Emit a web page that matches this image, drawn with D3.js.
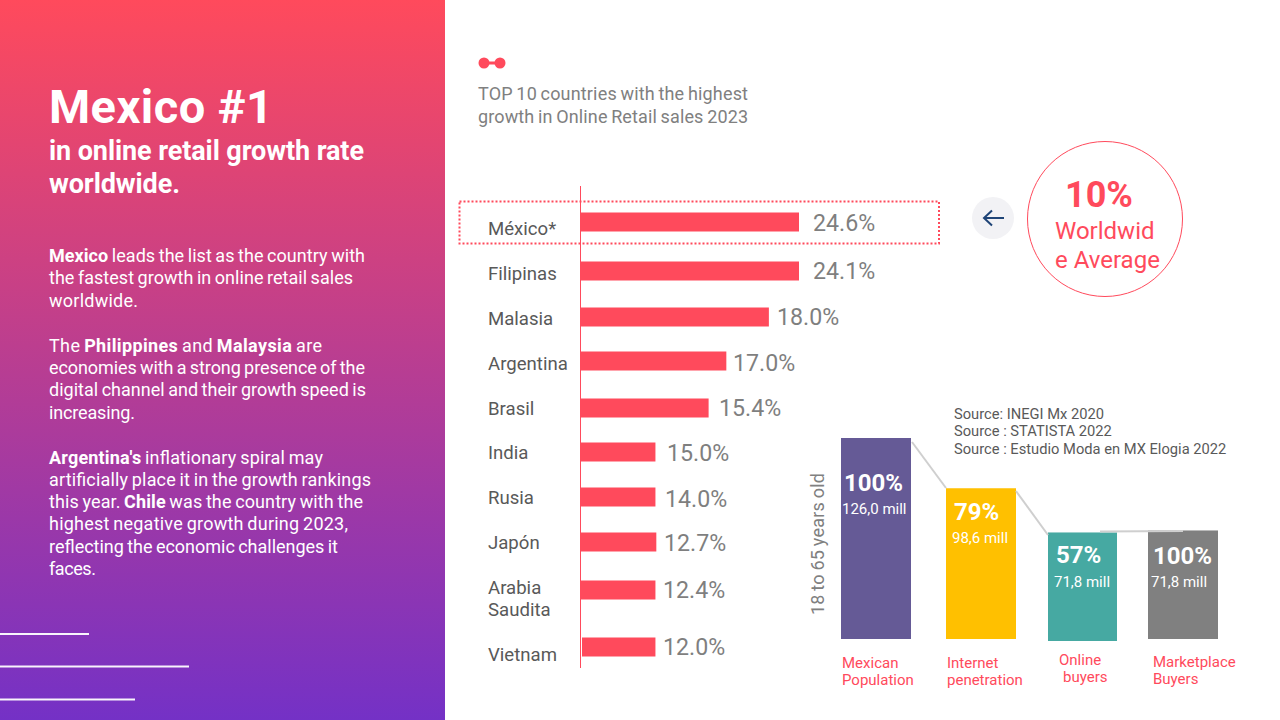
<!DOCTYPE html>
<html><head><meta charset="utf-8">
<script src="https://cdn.jsdelivr.net/npm/d3@7"></script>
<style>html,body{margin:0;padding:0;background:#fff;overflow:hidden}svg{display:block;font-family:Roboto,sans-serif}</style>
</head><body><svg id="c" width="1280" height="720"></svg>
<script>
// ---- data ----
const countries = ["México*","Filipinas","Malasia","Argentina","Brasil","India","Rusia","Japón","Arabia Saudita","Vietnam"];
const growthLabels = [24.6,24.1,18.0,17.0,15.4,15.0,14.0,12.7,12.4,12.0];
// drawn lengths of the bars: the source graphic does not draw them to scale with the printed values
const barLengths = [24.6,24.6,21.2,16.4,14.4,8.4,8.4,8.5,8.4,8.4];
const funnelCats = ["Mexican Population","Internet penetration","Online buyers","Marketplace Buyers"];
const funnelPct = [100,79,57,100];
const funnelMill = ["126,0 mill","98,6 mill","71,8 mill","71,8 mill"];
// drawn heights of the funnel columns, in the same picture-based sense
const funnelHeights = [100,75,54,54];
const funnelColors = ["#655A96","#FFC000","#46A9A2","#808080"];
const RED = "#FF4A5C";

const svg = d3.select("#c");
const defs = svg.append("defs");
const g = defs.append("linearGradient").attr("id","panel").attr("x1",0).attr("y1",0).attr("x2",0).attr("y2",1);
g.append("stop").attr("offset",0).attr("stop-color","#FF4A5C");
g.append("stop").attr("offset",1).attr("stop-color","#7431C6");
svg.append("rect").attr("width",445).attr("height",720).attr("fill","url(#panel)");

function line(x,y,segs,size,fill,width,opts={}){
  const t = svg.append("text").attr("x",x).attr("y",y).attr("font-size",size).attr("fill",fill);
  if(width) t.attr("textLength",width).attr("lengthAdjust","spacing");
  if(opts.weight) t.attr("font-weight",opts.weight);
  if(opts.words) t.attr("word-spacing",opts.words);
  (Array.isArray(segs)?segs:[[segs,0]]).forEach(([s,b])=>{
    const ts=t.append("tspan").text(s); if(b) ts.attr("font-weight",b===1?700:b);
  });
  return t;
}
// left panel
line(49,123,"Mexico #1",47,"#fff",224,{weight:700});
line(49,160,"in online retail growth rate",27,"#fff",315,{weight:700});
line(49,193,"worldwide.",27,"#fff",131,{weight:700});
const body = [
 [261.5,[["Mexico",1],[" leads the list as the country with",0]],316],
 [284,[["the fastest growth in online retail sales",0]],304],
 [307,[["worldwide.",0]],89],
 [352,[["The ",0],["Philippines",1],[" and ",0],["Malaysia",1],[" are",0]],273],
 [374,[["economies with a strong presence of the",0]],316],
 [396,[["digital channel and their growth speed is",0]],317],
 [419,[["increasing.",0]],86],
 [464,[["Argentina's",1],[" inflationary spiral may",0]],274],
 [486,[["artificially place it in the growth rankings",0]],322],
 [508,[["this year. ",0],["Chile",1],[" was the country with the",0]],314],
 [530,[["highest negative growth during 2023,",0]],299],
 [552.5,[["reflecting the economic challenges it",0]],289],
 [575,[["faces.",0]],47]
];
body.forEach(([y,s,w])=>line(49,y,s,18,"#fff",w,{words:-1}));
[[634,89],[666.5,189],[699.5,135]].forEach(([y,w])=>svg.append("rect").attr("x",0).attr("y",y-1).attr("width",w).attr("height",2).attr("fill","#fff").attr("opacity",.95));

// logo and heading
svg.append("circle").attr("cx",484).attr("cy",63).attr("r",5.5).attr("fill",RED);
svg.append("circle").attr("cx",500).attr("cy",63).attr("r",5.5).attr("fill",RED);
svg.append("rect").attr("x",484).attr("y",61.5).attr("width",16).attr("height",3).attr("fill",RED);
line(478,100,"TOP 10 countries with the highest",18,"#808080",270,{words:-1});
line(478,123,"growth in Online Retail sales 2023",18,"#808080",270,{words:-1});

// bar chart
const x = d3.scaleLinear().domain([0,24.6]).range([581,799]);
const yMid = d3.scaleOrdinal().domain(countries).range([222,271,317,361,408,452,497,542,590,647]);
const labelX = [813,813,777,733,719,667,665,664,663,663];
const labelY = [231,279,325,371,416,461,507,551,598,655];
const catY = {"México*":235,"Filipinas":280,"Malasia":325,"Argentina":370,"Brasil":415,"India":459,"Rusia":504,"Japón":549,"Vietnam":661};
svg.append("rect").attr("x",459.5).attr("y",201.5).attr("width",479.5).attr("height",42)
  .attr("fill","none").attr("stroke",RED).attr("stroke-width",2).attr("stroke-dasharray","2 2");
const barH = 19;
svg.selectAll("rect.b").data(countries).join("rect").attr("class","b")
  .attr("x",(d,i)=>i===9?582:x(0)).attr("y",d=>yMid(d)-barH/2)
  .attr("width",(d,i)=>x(barLengths[i])-(i===9?582:x(0))).attr("height",barH).attr("fill",RED);
svg.append("line").attr("x1",580.5).attr("x2",580.5).attr("y1",186).attr("y2",668).attr("stroke",RED).attr("stroke-width",1);
countries.forEach((c,i)=>{
  if(c==="Arabia Saudita"){
    line(488,594,"Arabia",18.6,"#595959");
    line(488,616,"Saudita",18.6,"#595959");
  } else line(488,catY[c],c,18.6,"#595959");
  line(labelX[i],labelY[i],growthLabels[i].toFixed(1)+"%",23.2,"#7F7F7F");
});

// average callout
svg.append("circle").attr("cx",993).attr("cy",218).attr("r",21).attr("fill","#F2F2F5");
svg.append("path").attr("d","M1004 218H984M992 210.5L984 218L992 225.5").attr("fill","none").attr("stroke","#1F4477").attr("stroke-width",2);
svg.append("circle").attr("cx",1105).attr("cy",219).attr("r",77.5).attr("fill","none").attr("stroke",RED).attr("stroke-width",1);
line(1065,207,"10%",36,RED,null,{weight:700});
line(1055,239,"Worldwid",24,RED);
line(1055,268,"e Average",24,RED);

// funnel
const h = d3.scaleLinear().domain([0,100]).range([0,201]);
const fx = d3.scaleOrdinal().domain(funnelCats).range([841,946,1048,1148]);
const fw = [70,70,69,70], fb = [639,639,641,639];
svg.selectAll("rect.f").data(funnelCats).join("rect").attr("class","f")
  .attr("x",d=>fx(d)).attr("width",(d,i)=>fw[i])
  .attr("y",(d,i)=>fb[i]-h(funnelHeights[i])).attr("height",(d,i)=>h(funnelHeights[i]))
  .attr("fill",(d,i)=>funnelColors[i]);
[[912,442,946,488],[1016,491,1048,535],[1100,531.5,1183,531]].forEach(([a,b,c,d])=>
  svg.append("line").attr("x1",a).attr("y1",b).attr("x2",c).attr("y2",d).attr("stroke","#CFCFCF").attr("stroke-width",2));
const pctX=[844,954,1056,1153], pctY=[491,520,563,564], millX=[842,952,1054,1151], millY=[514,543,587,587];
funnelCats.forEach((c,i)=>{
  line(pctX[i],pctY[i],funnelPct[i]+"%",24,"#fff",null,{weight:700});
  line(millX[i],millY[i],funnelMill[i],15,"#fff");
});
line(842,668,"Mexican",15,RED); line(842,685,"Population",15,RED);
line(947,668,"Internet",15,RED); line(947,685,"penetration",15,RED);
line(1059,665,"Online",15,RED); line(1063,682,"buyers",15,RED);
line(1153,667,"Marketplace",15,RED); line(1153,684,"Buyers",15,RED);
line(954,419,"Source: INEGI Mx 2020",14.7,"#595959");
line(954,436,"Source : STATISTA 2022",14.7,"#595959");
line(954,454,"Source : Estudio Moda en MX Elogia 2022",14.7,"#595959");
svg.append("text").attr("transform","translate(824,615) rotate(-90)").attr("font-size",18).attr("fill","#808080").attr("textLength",142).attr("word-spacing",-1).text("18 to 65 years old");
</script></body></html>
